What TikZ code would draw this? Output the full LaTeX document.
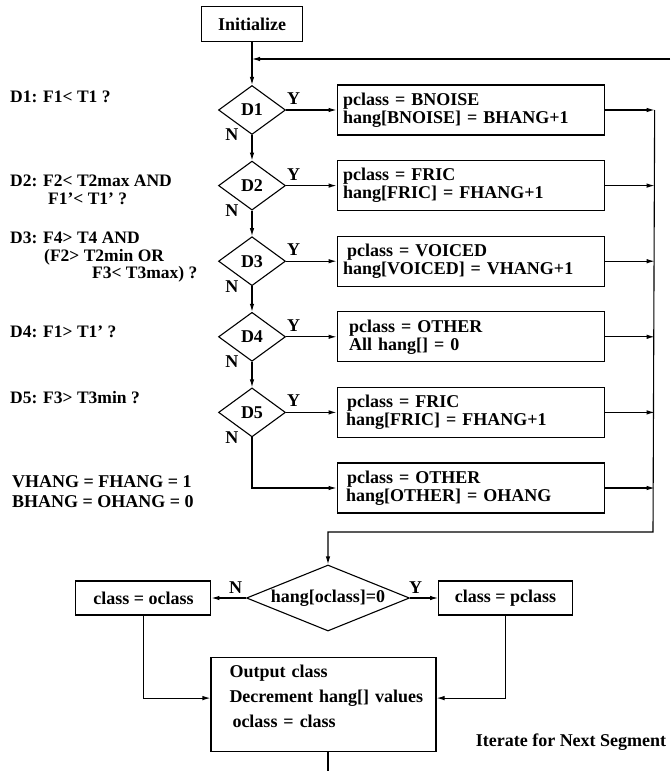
\documentclass[tikz,border=0pt]{standalone}
\usepackage{fontspec}
\setmainfont{Liberation Serif}
\usetikzlibrary{shapes,arrows.meta,positioning,calc}

\begin{document}
\begin{tikzpicture}[
    x=1pt, y=-1pt,
    every node/.style={font=\fontsize{18}{16}\selectfont\bfseries},
    proc/.style={rectangle, draw=black, line width=1.1pt, minimum width=267pt, minimum height=50pt, text width=255pt, inner xsep=6pt, inner ysep=0pt, align=left, font=\fontsize{18}{18}\selectfont\bfseries},
    test/.style={diamond, draw=black, line width=1.1pt, minimum width=67pt, minimum height=49pt, inner sep=0pt},
    smallbox/.style={rectangle, draw=black, line width=1.1pt, minimum width=135pt, minimum height=34pt, inner sep=0pt},
    arrow/.style={draw, line width=1.1pt, -{Latex[length=8pt,width=4.5pt]}},
    yn/.style={inner sep=1pt},
    cond/.style={anchor=west, align=left, inner sep=0pt, font=\fontsize{17.5}{17.5}\selectfont\bfseries}
]
    \useasboundingbox (0,0) rectangle (670,771);

    % Decision chain
    \node[test] (d1) at (252,110) {D1};
    \node[smallbox, minimum width=101pt, minimum height=35pt, above=42.5pt of d1] (init) {Initialize};
    \node[test, below=25.5pt of d1] (d2) {D2};
    \node[test, below=25.5pt of d2] (d3) {D3};
    \node[test, below=25.5pt of d3] (d4) {D4};
    \node[test, below=25.5pt of d4] (d5) {D5};

    \node[proc, right=50.5pt of d1] (b1) {pclass = BNOISE\\hang[BNOISE] = BHANG+1};
    \node[proc, right=50.5pt of d2] (b2) {pclass = FRIC\\hang[FRIC] = FHANG+1};
    \node[proc, right=50.5pt of d3] (b3) {\hspace*{4pt}pclass = VOICED\\hang[VOICED] = VHANG+1};
    \node[proc, right=50.5pt of d4] (b4) {\hspace*{6pt}pclass = OTHER\\\hspace*{6pt}All hang[] = 0};
    \node[proc, right=50.5pt of d5] (b5) {\hspace*{4pt}pclass = FRIC\\\hspace*{3pt}hang[FRIC] = FHANG+1};
    \node[proc, below=24.5pt of b5] (b6) {\hspace*{4pt}pclass = OTHER\\\hspace*{3pt}hang[OTHER] = OHANG};

    % Conditions on the left
    \node[cond] (c1) at (10,97) {D1: F1< T1 ?};
    \node[cond] (c2) at (10,190) {D2: F2< T2max AND\\\hspace*{38pt}F1'< T1' ?};
    \node[cond] (c3) at (10,257.5) {D3: F4> T4 AND\\\hspace*{34pt}(F2> T2min OR\\\hspace*{82pt}F3< T3max) ?};
    \node[cond] (c4) at (10,332) {D4: F1> T1' ?};
    \node[cond] (c5) at (10,398) {D5: F3> T3min ?};
    \node[cond, font=\fontsize{18}{20}\selectfont\bfseries] (c6) at (12,492) {VHANG = FHANG = 1\\BHANG = OHANG = 0};

    % Class selection
    \node[test, aspect=2.5, minimum width=163pt, minimum height=66pt] (dz) at (328,598) {hang[oclass]=0};
    \node[smallbox, left=34.5pt of dz] (oc) {class = oclass};
    \node[smallbox, minimum width=134pt, right=28pt of dz] (pc) {class = pclass};
    \node[rectangle, draw=black, line width=1.1pt, minimum width=225pt, minimum height=94pt, text width=200pt, inner xsep=12.5pt, align=left, font=\fontsize{18}{25}\selectfont\bfseries, below=25pt of dz, xshift=-4.5pt] (out) {\hspace*{6pt}Output class\\\hspace*{6pt}Decrement hang[] values\\\hspace*{9pt}oclass = class\rule[-16pt]{0pt}{0pt}};
    \node (iter) at (571,742) {Iterate for Next Segment};

    \coordinate (loopin) at (670,59);
    \coordinate (rtop) at ($(b1.east)+(50,0)$);
    \coordinate (rbot) at (653,532);
    \coordinate (nextseg) at (328,771);

    % Arrows
    \path[arrow] (init) -- (d1);
    \path[arrow] (loopin) -- (loopin -| d1);
    \path[arrow] (d1.east) -- (b1.west) node[yn, pos=0.15, above=4pt] (y1) {Y};
    \path[arrow] (d2.east) -- (b2.west) node[yn, pos=0.15, above=4pt] (y2) {Y};
    \path[arrow] (d3.east) -- (b3.west) node[yn, pos=0.15, above=4pt] (y3) {Y};
    \path[arrow] (d4.east) -- (b4.west) node[yn, pos=0.15, above=4pt] (y4) {Y};
    \path[arrow] (d5.east) -- (b5.west) node[yn, pos=0.15, above=4pt] (y5) {Y};
    \path[arrow] (d1.south) -- (d2.north) node[yn, pos=0, left=12pt] (n1) {N};
    \path[arrow] (d2.south) -- (d3.north) node[yn, pos=0, left=12pt] (n2) {N};
    \path[arrow] (d3.south) -- (d4.north) node[yn, pos=0, left=12pt] (n3) {N};
    \path[arrow] (d4.south) -- (d5.north) node[yn, pos=0, left=12pt] (n4) {N};
    \path[arrow] (d5.south) |- (b6.west) node[yn, pos=0, left=12pt] (n5) {N};

    \path[arrow] (b1.east) -- (b1.east -| rtop);
    \path[arrow] (b2.east) -- (b2.east -| rtop);
    \path[arrow] (b3.east) -- (b3.east -| rtop);
    \path[arrow] (b4.east) -- (b4.east -| rtop);
    \path[arrow] (b5.east) -- (b5.east -| rtop);
    \path[arrow] (b6.east) -- (b6.east -| rtop);
    \path[arrow] (rtop) -- (rbot) -- (rbot -| dz) -- (dz.north);

    \path[arrow] (dz.west) -- (oc.east) node[yn, pos=0.3, above=3pt] (nz) {N};
    \path[arrow] (dz.east) -- (pc.west) node[yn, pos=0.2, above=3pt] (yz) {Y};
    \path[arrow] (oc.south) |- ([yshift=6pt]out.west);
    \path[arrow] (pc.south) |- ([yshift=6pt]out.east);
    \draw[line width=1.1pt] (out.south -| dz) -- (nextseg);
\end{tikzpicture}
\end{document}
